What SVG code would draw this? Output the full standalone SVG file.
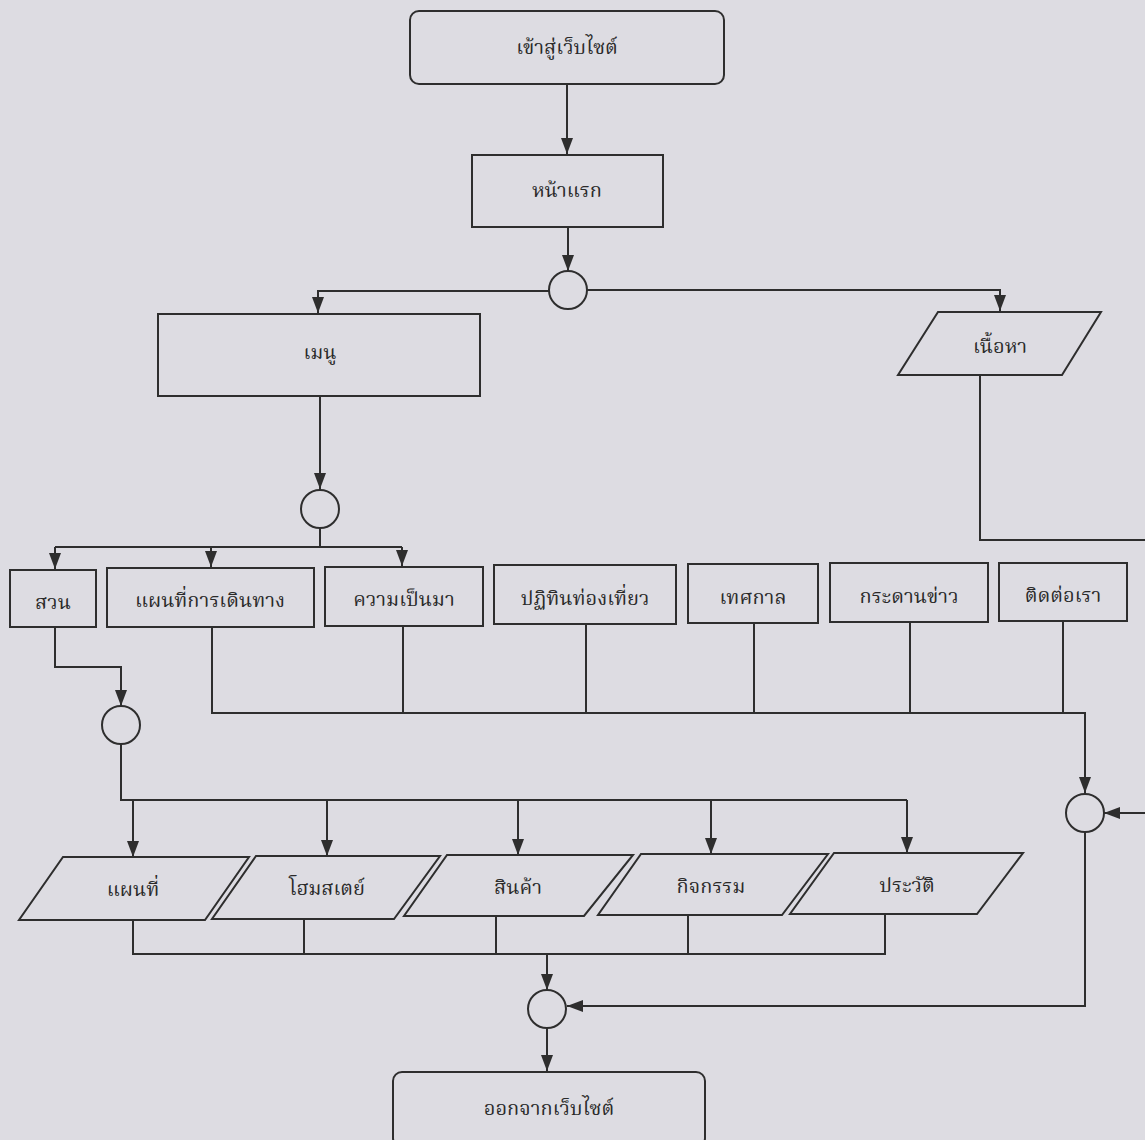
<svg xmlns="http://www.w3.org/2000/svg" width="1145" height="1140" viewBox="0 0 1145 1140">
<style>
.s{fill:none;stroke:#2e2e2e;stroke-width:2}
.n{fill:#dddce2;stroke:#2e2e2e;stroke-width:2}
.t{font-family:"Liberation Serif","Noto Serif Thai","Noto Sans Thai","DejaVu Serif",serif;font-size:20px;fill:#2a2a2a;text-anchor:middle;dominant-baseline:central}
</style>
<defs>
<marker id="a" viewBox="0 0 16 12" refX="16" refY="6" markerWidth="16" markerHeight="12" markerUnits="userSpaceOnUse" orient="auto">
<path d="M0,0 L16,6 L0,12 z" fill="#2e2e2e"/>
</marker>
</defs>
<rect width="1145" height="1140" fill="#dddce2"/>
<g id="connectors">
<path class="s" d="M567,84 V154" marker-end="url(#a)"/>
<path class="s" d="M568,227 V271" marker-end="url(#a)"/>
<path class="s" d="M549,291 H318 V313" marker-end="url(#a)"/>
<path class="s" d="M587,290 H1000 V311" marker-end="url(#a)"/>
<path class="s" d="M320,396 V489" marker-end="url(#a)"/>
<path class="s" d="M320,528 V547"/>
<path class="s" d="M55,547 H402"/>
<path class="s" d="M55,547 V569" marker-end="url(#a)"/>
<path class="s" d="M211,547 V567" marker-end="url(#a)"/>
<path class="s" d="M402,547 V566" marker-end="url(#a)"/>
<path class="s" d="M980,375 V540 H1145"/>
<path class="s" d="M55,627 V667 H121 V706" marker-end="url(#a)"/>
<path class="s" d="M121,744 V800 H907"/>
<path class="s" d="M133,800 V857" marker-end="url(#a)"/>
<path class="s" d="M327,800 V856" marker-end="url(#a)"/>
<path class="s" d="M518,800 V855" marker-end="url(#a)"/>
<path class="s" d="M711,800 V854" marker-end="url(#a)"/>
<path class="s" d="M907,800 V853" marker-end="url(#a)"/>
<path class="s" d="M212,627 V713 H1085 V793" marker-end="url(#a)"/>
<path class="s" d="M403,626 V713"/>
<path class="s" d="M586,624 V713"/>
<path class="s" d="M754,623 V713"/>
<path class="s" d="M910,622 V713"/>
<path class="s" d="M1063,621 V713"/>
<path class="s" d="M1145,813 H1104" marker-end="url(#a)"/>
<path class="s" d="M1085,832 V1006 H567" marker-end="url(#a)"/>
<path class="s" d="M133,920 V954 H885 V914"/>
<path class="s" d="M304,919 V954"/>
<path class="s" d="M496,916 V954"/>
<path class="s" d="M688,915 V954"/>
<path class="s" d="M547,954 V990" marker-end="url(#a)"/>
<path class="s" d="M547,1028 V1071" marker-end="url(#a)"/>
</g>
<g id="enter"><rect class="n" x="410" y="11" width="314" height="73" rx="9"/><text class="t" x="567" y="47">เข้าสู่เว็บไซต์</text></g>
<g id="home"><rect class="n" x="472" y="155" width="191" height="72"/><text class="t" x="567" y="190">หน้าแรก</text></g>
<g id="j1"><ellipse class="n" cx="568" cy="290" rx="19" ry="19"/></g>
<g id="menu"><rect class="n" x="158" y="314" width="322" height="82"/><text class="t" x="320" y="352">เมนู</text></g>
<g id="content"><polygon class="n" points="938,312 1101,312 1062,375 898,375"/><text class="t" x="1000" y="346">เนื้อหา</text></g>
<g id="j2"><ellipse class="n" cx="320" cy="509" rx="19" ry="19"/></g>
<g id="garden"><rect class="n" x="10" y="570" width="86" height="57"/><text class="t" x="53" y="602">สวน</text></g>
<g id="travelmap"><rect class="n" x="107" y="568" width="207" height="59"/><text class="t" x="210" y="600">แผนที่การเดินทาง</text></g>
<g id="history"><rect class="n" x="325" y="567" width="158" height="59"/><text class="t" x="404" y="599">ความเป็นมา</text></g>
<g id="calendar"><rect class="n" x="494" y="565" width="182" height="59"/><text class="t" x="585" y="598">ปฏิทินท่องเที่ยว</text></g>
<g id="festival"><rect class="n" x="688" y="564" width="130" height="59"/><text class="t" x="753" y="597">เทศกาล</text></g>
<g id="board"><rect class="n" x="830" y="563" width="158" height="59"/><text class="t" x="909" y="596">กระดานข่าว</text></g>
<g id="contact"><rect class="n" x="999" y="563" width="128" height="58"/><text class="t" x="1063" y="595">ติดต่อเรา</text></g>
<g id="j3"><ellipse class="n" cx="121" cy="725" rx="19" ry="19"/></g>
<g id="j4"><ellipse class="n" cx="1085" cy="813" rx="19" ry="19"/></g>
<g id="map"><polygon class="n" points="63,857 249,857 205,920 19,920"/><text class="t" x="133" y="889">แผนที่</text></g>
<g id="homestay"><polygon class="n" points="256,856 440,856 394,919 212,919"/><text class="t" x="327" y="888">โฮมสเตย์</text></g>
<g id="product"><polygon class="n" points="447,855 633,855 584,916 404,916"/><text class="t" x="518" y="887">สินค้า</text></g>
<g id="activity"><polygon class="n" points="641,854 828,854 782,915 598,915"/><text class="t" x="711" y="886">กิจกรรม</text></g>
<g id="biography"><polygon class="n" points="834,853 1023,853 977,914 790,914"/><text class="t" x="907" y="885">ประวัติ</text></g>
<g id="j5"><ellipse class="n" cx="547" cy="1009" rx="19" ry="19"/></g>
<g id="exit"><rect class="n" x="393" y="1072" width="312" height="75" rx="9"/><text class="t" x="549" y="1108">ออกจากเว็บไซต์</text></g>
</svg>
